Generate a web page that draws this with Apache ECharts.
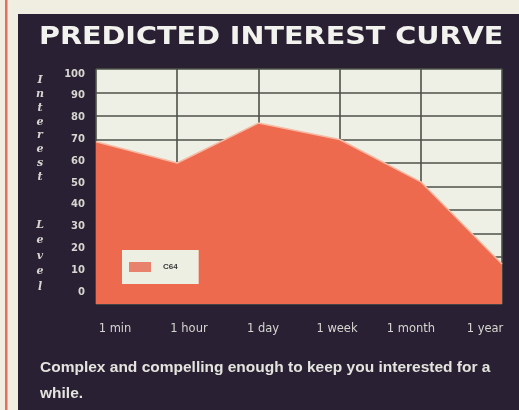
<!DOCTYPE html>
<html>
<head>
<meta charset="utf-8">
<script src="https://cdn.jsdelivr.net/npm/echarts@6/dist/echarts.min.js"></script>
<style>
  html, body { margin: 0; padding: 0; background: #efeee0; }
  #chart { width: 519px; height: 410px; }
</style>
</head>
<body>
<div id="chart"></div>
<script>
// Time horizon after first play
var categories = ['1 min', '1 hour', '1 day', '1 week', '1 month', '1 year'];
// Predicted interest level (0-100) for the C64 version
var interestC64 = [69, 60, 77, 70, 52, 17];
var seriesName = 'C64';
var titleText = 'PREDICTED INTEREST CURVE';
var yTitleTop = 'Interest';
var yTitleBottom = 'Level';
var captionLines = ['Complex and compelling enough to keep you interested for a', 'while.'];

var PANEL = '#2a2033';
var PAPER = '#eef0e6';
var FILL = '#ee6a4e';
var GRIDLINE = '#4c5248';
var LABEL = '#d6d6d0';

function stacked(word) {
  return word.split('').join('\n');
}

var chart = echarts.init(document.getElementById('chart'), null, { renderer: 'canvas' });

chart.setOption({
  backgroundColor: '#efeee0',
  animation: false,
  graphic: [
    // margin rule and dark panel
    { type: 'rect', z: -10, shape: { x: 5, y: 0, width: 2.5, height: 410 }, style: { fill: '#e2705e' } },
    { type: 'rect', z: -10, shape: { x: 18, y: 14, width: 501, height: 396 }, style: { fill: PANEL } },
    {
      type: 'text', x: 39, y: 26, scaleX: 1.245, scaleY: 1.05, z: 10,
      style: { text: titleText, fill: '#f2f2ee', font: 'bold 23px "DejaVu Sans"', textVerticalAlign: 'top' }
    },
    {
      type: 'text', x: 40, y: 73, z: 10,
      style: { text: stacked(yTitleTop), fill: LABEL, font: 'italic bold 11px "DejaVu Serif"',
               lineHeight: 13.9, textAlign: 'center', textVerticalAlign: 'top' }
    },
    {
      type: 'text', x: 40, y: 217, z: 10,
      style: { text: stacked(yTitleBottom), fill: LABEL, font: 'italic bold 11px "DejaVu Serif"',
               lineHeight: 15.5, textAlign: 'center', textVerticalAlign: 'top' }
    },
    {
      type: 'text', x: 40, y: 355, z: 10,
      style: { text: captionLines.join('\n'), fill: '#e4e4de', font: 'bold 15.5px "Liberation Sans"',
               lineHeight: 26, textVerticalAlign: 'top' }
    }
  ],
  legend: {
    data: [seriesName],
    left: 122,
    top: 250,
    orient: 'horizontal',
    icon: 'rect',
    itemWidth: 22,
    itemHeight: 10,
    padding: [12, 21, 12, 7],
    backgroundColor: '#eeefe3',
    itemStyle: { color: '#e9826c' },
    textStyle: { color: '#3a3a3a', fontSize: 8, fontWeight: 'bold', fontFamily: 'Liberation Sans', padding: [0, 0, 0, 7] }
  },
  grid: [
    { left: 96, right: 17, top: 69, bottom: 106, show: true, backgroundColor: PAPER, borderWidth: 0 },
    { left: 115, right: 34, top: 74, bottom: 118, show: false }
  ],
  xAxis: [
    {
      gridIndex: 0, type: 'category', data: categories, boundaryGap: false,
      axisLine: { show: false }, axisTick: { show: false }, axisLabel: { show: false },
      splitLine: { show: true, lineStyle: { color: GRIDLINE, width: 1.6 } }
    },
    {
      gridIndex: 1, type: 'category', data: categories, boundaryGap: false,
      axisLine: { show: false }, axisTick: { show: false }, splitLine: { show: false },
      axisLabel: { margin: 31, color: LABEL, fontSize: 11.5, fontFamily: 'DejaVu Sans', interval: 0 }
    }
  ],
  yAxis: [
    {
      gridIndex: 0, type: 'value', min: 0, max: 100, interval: 10,
      axisLine: { show: false }, axisTick: { show: false }, axisLabel: { show: false },
      splitLine: { show: true, lineStyle: { color: GRIDLINE, width: 1.6 } }
    },
    {
      gridIndex: 1, type: 'value', min: 0, max: 100, interval: 10,
      axisLine: { show: false }, axisTick: { show: false }, splitLine: { show: false },
      axisLabel: { margin: 30, color: LABEL, fontSize: 10, fontWeight: 'bold', fontFamily: 'DejaVu Sans' }
    }
  ],
  series: [
    {
      name: seriesName,
      type: 'line',
      xAxisIndex: 0,
      yAxisIndex: 0,
      data: interestC64,
      symbol: 'none',
      color: FILL,
      lineStyle: { color: '#f5b9a3', width: 1.5 },
      areaStyle: { color: FILL, opacity: 1 }
    }
  ]
});
</script>
</body>
</html>
